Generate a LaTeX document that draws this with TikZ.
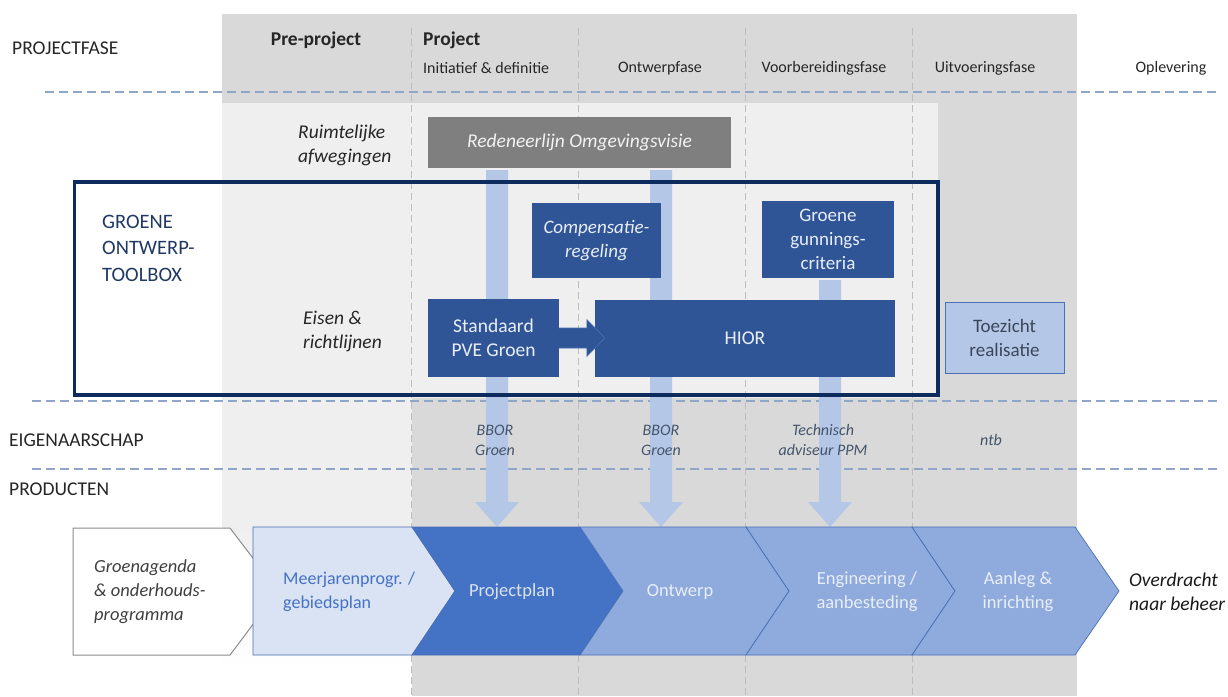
\documentclass[tikz,border=0pt]{standalone}
\usepackage{fontspec}
\setmainfont{Carlito}
\usetikzlibrary{calc}
\definecolor{hdrgray}{HTML}{D9D9D9}
\definecolor{panel}{HTML}{EFEFEF}
\definecolor{navy}{HTML}{0E2B5E}
\definecolor{dblue}{HTML}{2F5597}
\definecolor{mblue}{HTML}{4472C4}
\definecolor{lblue}{HTML}{8FAADC}
\definecolor{pblue}{HTML}{B4C7E7}
\definecolor{vlblue}{HTML}{DAE3F3}
\definecolor{dashblue}{HTML}{8EA7C9}
\definecolor{vgray}{HTML}{BDBDBD}
\definecolor{txt}{HTML}{262626}
\definecolor{slate}{HTML}{44546A}
\definecolor{boxgray}{HTML}{7F7F7F}
\definecolor{boxtxt}{HTML}{E9EEF7}
\definecolor{navytxt}{HTML}{203864}
\definecolor{chevline}{HTML}{4A6FB5}
\newcommand{\dncol}[2]{\fill[pblue] ($(#1)+(-11,0)$) -- ($(#1)+(11,0)$) -- ($(#2)+(11,-25)$) -- ($(#2)+(22,-25)$) -- (#2) -- ($(#2)+(-22,-25)$) -- ($(#2)+(-11,-25)$) -- cycle;}
\tikzset{
  hdr/.style={font=\fontsize{19.5}{23}\selectfont, text=txt, inner sep=0pt},
  hdrb/.style={font=\bfseries\fontsize{19.5}{23}\selectfont, text=txt, inner sep=0pt},
  sub/.style={font=\fontsize{16}{19}\selectfont, text=txt, inner sep=0pt},
  lbl/.style={font=\itshape\fontsize{19.5}{24}\selectfont, text=txt, inner sep=0pt, align=left},
  own/.style={font=\itshape\fontsize{16}{20}\selectfont, text=slate, inner sep=0pt, align=center},
  dbox/.style={fill=dblue, text=boxtxt, inner sep=0pt, align=center, font=\fontsize{19.5}{24}\selectfont},
  graybox/.style={fill=boxgray, text=white!95!black, inner sep=0pt, align=center, font=\itshape\fontsize{19.5}{24}\selectfont},
  chevtxt/.style={inner sep=0pt, font=\fontsize{18.5}{24}\selectfont},
  hdash/.style={dashblue, line width=1.2pt, dash pattern=on 9pt off 5pt},
  vdash/.style={vgray, line width=0.8pt, dash pattern=on 7pt off 4pt}
}
\begin{document}
\begin{tikzpicture}[x=1pt,y=-1pt]
\useasboundingbox (0,0) rectangle (1228,696);
% backgrounds
\fill[hdrgray] (222,14) rectangle (1077,696);
\fill[panel] (222,103) rectangle (938,398);
\fill[panel] (222,398) rectangle (412,528);
\shade[top color=panel, bottom color=white] (222,528) rectangle (412,668);
\fill[white] (222,668) rectangle (412,696);
% vertical phase separators
\foreach \x in {411,578,745,912} \draw[vdash] (\x,28) -- (\x,696);
% horizontal separators
\draw[hdash] (45,92) -- (1220,92);
\draw[hdash] (32,401) -- (1220,401);
\draw[hdash] (32,469) -- (1220,469);
% header texts
\node[hdr, anchor=west] (pf) at (12,48) {PROJECTFASE};
\node[hdrb] (pre) at (316,40) {Pre-project};
\node[hdrb, anchor=west] (proj) at (423,40) {Project};
\node[sub, anchor=west] (ph1) at (423,68) {Initiatief \& definitie};
\node[sub] (ph2) at (660,68) {Ontwerpfase};
\node[sub] (ph3) at (824,68) {Voorbereidingsfase};
\node[sub] (ph4) at (985,68) {Uitvoeringsfase};
\node[sub] (ph5) at (1171,68) {Oplevering};
% light blue flow columns
\coordinate (c1s) at (497,170); \coordinate (c1e) at (497,527);
\coordinate (c2s) at (661,170); \coordinate (c2e) at (661,527);
\coordinate (c3s) at (830,280); \coordinate (c3e) at (830,527);
\dncol{c1s}{c1e}
\dncol{c2s}{c2e}
\dncol{c3s}{c3e}
% toolbox frame
\node[draw=navy, line width=3.5pt, minimum width=863.5pt, minimum height=213pt, inner sep=0pt, anchor=north west] (toolbox) at (72.5,180) {};
\node[inner sep=0pt, anchor=west, align=left, text=navytxt, font=\fontsize{20.5}{26.5}\selectfont] (tbtitle) at (102,248) {GROENE\\ONTWERP-\\TOOLBOX};
% side labels
\node[lbl, anchor=west] (ruimte) at (298,145) {Ruimtelijke\\afwegingen};
\node[lbl, anchor=west] (eisen) at (303,331) {Eisen \&\\richtlijnen};
% boxes
\node[graybox, minimum width=303pt, minimum height=51pt] (red) at (579.5,142.5) {Redeneerlijn Omgevingsvisie};
\node[dbox, font=\itshape\fontsize{19}{24}\selectfont, minimum width=129pt, minimum height=75pt] (comp) at (596.5,240.5) {Compensatie-\\regeling};
\node[dbox, font=\fontsize{19}{24}\selectfont, minimum width=132pt, minimum height=77pt] (gunn) at (828,239.5) {Groene\\gunnings-\\criteria};
\node[dbox, minimum width=131pt, minimum height=78pt] (std) at (493.5,338) {Standaard\\PVE Groen};
\node[dbox, minimum width=300pt, minimum height=77pt] (hior) at (745,338) {HIOR};
\node[fill=pblue, draw=chevline, line width=0.8pt, text=slate!85!black, inner sep=0pt, align=center, font=\fontsize{19}{24}\selectfont, minimum width=119pt, minimum height=71pt] (toez) at (1004.5,337.5) {Toezicht\\realisatie};
% arrow Standaard -> HIOR
\draw[fill=dblue, draw=chevline, line width=0.6pt] ($(std.east)+(0,-10)$) -- ($(hior.west)+(-8,-10)$) -- ($(hior.west)+(-8,-18.5)$) -- ($(hior.west)+(10,0)$) -- ($(hior.west)+(-8,18.5)$) -- ($(hior.west)+(-8,10)$) -- ($(std.east)+(0,10)$);
% ownership row
\node[hdr, anchor=west] (eig) at (9,440) {EIGENAARSCHAP};
\node[hdr, anchor=west] (prod) at (9,489) {PRODUCTEN};
\node[own] (own1) at (495,440) {BBOR\\Groen};
\node[own] (own2) at (661,440) {BBOR\\Groen};
\node[own] (own3) at (823,440) {Technisch\\adviseur PPM};
\node[own] (own4) at (991,440) {ntb};
% product chevrons
\draw[fill=white, draw=black!45, line width=1pt] (73,528) -- (230,528) -- (278,591) -- (230,655) -- (73,655) -- cycle;
\draw[fill=vlblue, draw=chevline, line width=0.7pt] (253,527) -- (412,527) -- (455,591) -- (412,655) -- (253,655) -- cycle;
\draw[fill=mblue, draw=chevline, line width=0.7pt] (412,527) -- (580,527) -- (623,591) -- (580,655) -- (412,655) -- (455,591) -- cycle;
\draw[fill=lblue, draw=chevline, line width=0.7pt] (580,527) -- (746,527) -- (789,591) -- (746,655) -- (580,655) -- (623,591) -- cycle;
\draw[fill=lblue, draw=chevline, line width=0.7pt] (746,527) -- (912,527) -- (955,591) -- (912,655) -- (746,655) -- (789,591) -- cycle;
\draw[fill=lblue, draw=chevline, line width=0.7pt] (912,527) -- (1075,527) -- (1119,591) -- (1075,655) -- (912,655) -- (955,591) -- cycle;
\node[chevtxt, anchor=west, align=left, text=black!75, font=\itshape\fontsize{18.5}{24}\selectfont] (p0) at (94,592) {Groenagenda\\\& onderhouds-\\programma};
\node[chevtxt, anchor=west, align=left, text=mblue, font=\fontsize{18}{24}\selectfont] (p1) at (283,592) {Meerjarenprogr. /\\gebiedsplan};
\node[chevtxt, text=vlblue] (p2) at (512,592) {Projectplan};
\node[chevtxt, text=boxtxt] (p3) at (680,592) {Ontwerp};
\node[chevtxt, text=boxtxt, align=center] (p4) at (867,592) {Engineering /\\aanbesteding};
\node[chevtxt, text=boxtxt, align=center] (p5) at (1018,592) {Aanleg \&\\inrichting};
\node[lbl, anchor=west, text=black!90] (p6) at (1129,592) {Overdracht\\naar beheer};
\end{tikzpicture}
\end{document}
